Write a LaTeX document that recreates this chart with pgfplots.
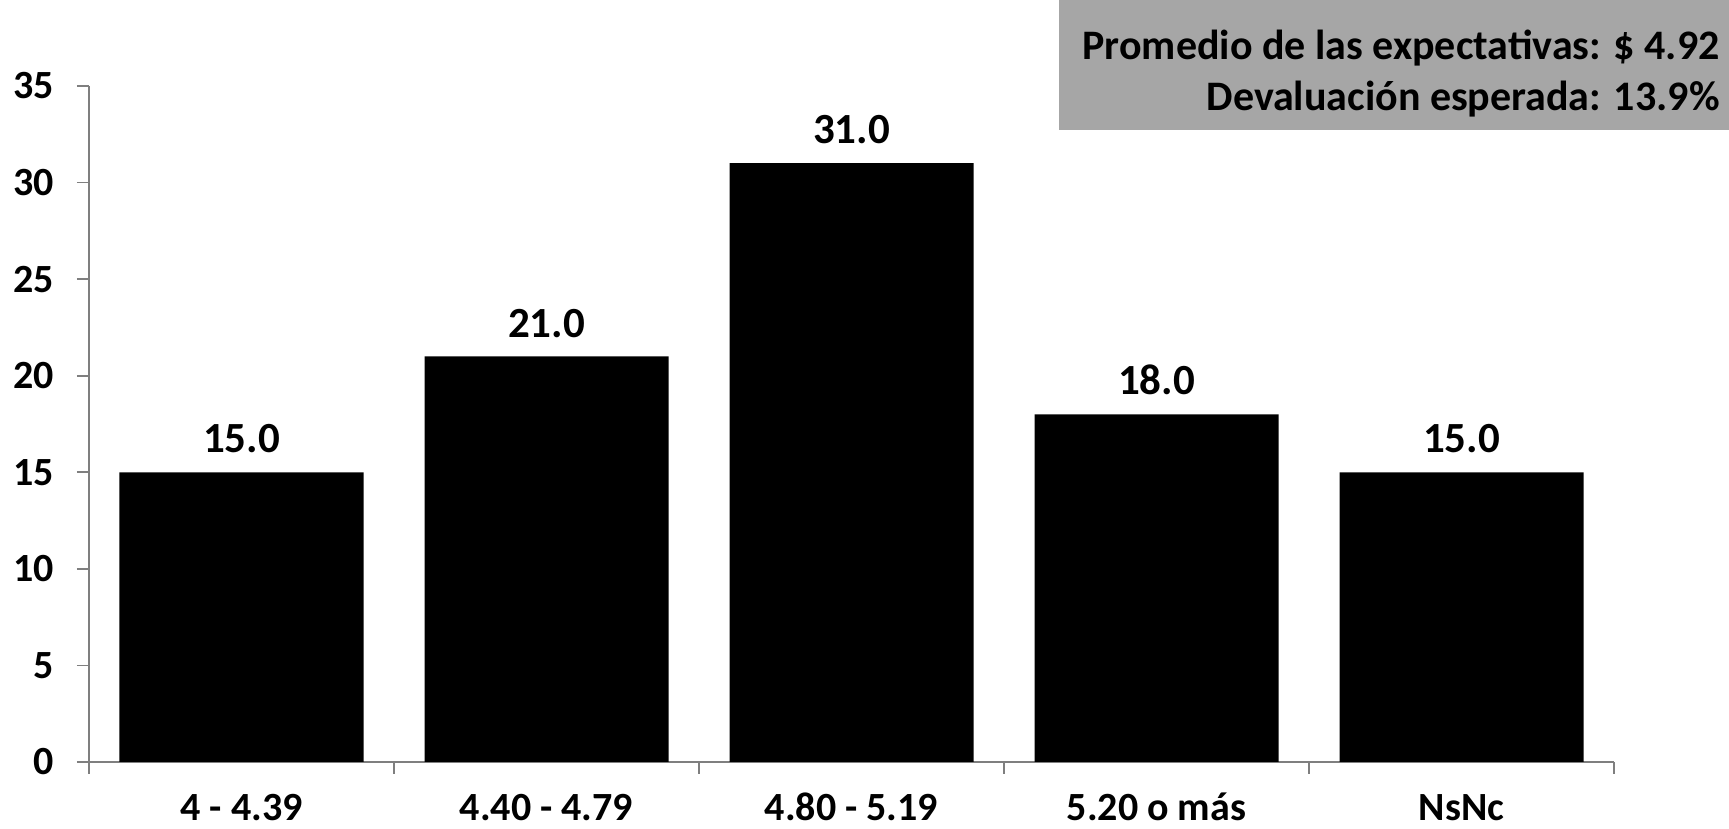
\documentclass[border=0pt]{standalone}
\usepackage{pgfplots}
\pgfplotsset{compat=1.18}
\usepackage{fontspec}
\setmainfont{Carlito}
\definecolor{boxgray}{HTML}{A6A6A6}
\definecolor{axgray}{HTML}{7F7F7F}
\begin{document}
\begin{tikzpicture}
\path (-44.5pt,-33.5pt) rectangle (820pt,381pt);
\begin{axis}[
  at={(0,0)}, anchor=south west,
  width=762.5pt, height=338pt, scale only axis,
  xmin=-0.5, xmax=4.5, ymin=0, ymax=35,
  ytick={0,5,...,35},
  xtick={-0.5,0.5,...,4.5},
  x tick label as interval,
  xticklabels={4 - 4.39, 4.40 - 4.79, 4.80 - 5.19, 5.20 o más, NsNc},
  axis lines*=left,
  axis line style={-, draw=axgray, line width=0.8pt},
  tick style={draw=axgray, line width=0.8pt},
  tick align=outside,
  major tick length=6pt,
  /pgf/number format/assume math mode=true,
  ticklabel style={font=\fontsize{20}{24}\selectfont\bfseries},
  yticklabel style={xshift=-8pt},
  xticklabel style={inner sep=0pt, text height=13pt, text depth=1pt, yshift=-10.3pt},
  ybar, bar width=122pt,
  nodes near coords,
  every node near coord/.append style={font=\fontsize{21.5}{25}\selectfont\bfseries, anchor=south, yshift=6pt,
    /pgf/number format/fixed, /pgf/number format/fixed zerofill, /pgf/number format/precision=1},
]
\addplot[fill=black, draw=none] coordinates {(0,15) (1,21) (2,31) (3,18) (4,15)};
\end{axis}
\fill[boxgray] (485pt,316pt) rectangle (820pt,381pt);
\node[anchor=east, align=right, inner sep=0pt, font=\fontsize{21}{25.5}\selectfont\bfseries] at (815.5pt,344pt)
  {Promedio de las expectativas: \$ 4.92\\Devaluación esperada: 13.9\%};
\end{tikzpicture}
\end{document}
